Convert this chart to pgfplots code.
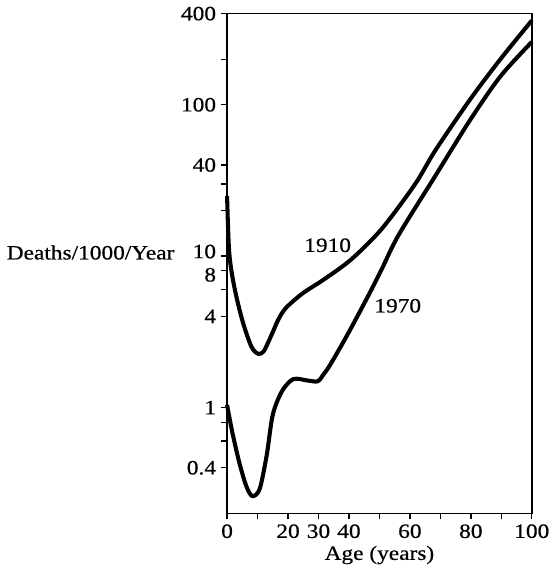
\documentclass[border=0pt]{standalone}
\usepackage{pgfplots}
\pgfplotsset{compat=1.18}
\usepackage{fontspec}
\setmainfont[FakeStretch=1.15, FakeBold=0.6]{Liberation Serif}

% death rate per 1000 per year
\pgfplotstableread{
age rate
0.0  25.0
0.7  10.6
2.3  6.37
5.0  3.77
8.0  2.52
10.3 2.26
12.0 2.35
13.5 2.70
15.0 3.15
16.5 3.70
18.0 4.20
20.0 4.70
25.0 5.72
31.7 7.00
40.7 9.50
50.7 15.1
61.7 29.9
68.3 49.8
79.7 108
89.7 200
100  360
}\yrnineteenten

\pgfplotstableread{
age rate
0.0  1.04
1.7  0.69
4.0  0.434
6.3  0.303
8.3  0.260
10.7 0.290
13.0 0.483
15.0 0.896
18.0 1.28
21.7 1.54
26.3 1.51
29.7 1.49
31.7 1.66
34.0 1.94
39.7 3.08
46.3 5.46
50.7 8.16
56.3 13.8
68.3 33.8
79.7 79
89.7 154
100  260
}\yrnineteenseventy

\newcommand{\fs}{\fontsize{20}{24}\selectfont}

\begin{document}
\fs
\begin{tikzpicture}
\begin{axis}[
  scale only axis,
  width=300pt, height=492pt,
  ymode=log,
  xmin=0, xmax=100,
  ymin=0.2, ymax=400,
  xtick={0,10,20,30,40,50,60,70,80,90,100},
  xticklabels={0,,20,30,40,,60,,80,,100},
  ytick={0.4,0.6,0.8,1,4,6,8,10,20,30,40,100,200,400},
  yticklabels={0.4,,,1,4,,\raisebox{-10.5pt}[0pt][0pt]{8},\raisebox{-2pt}[0pt][0pt]{10},,,40,100,,400},
  xtick pos=bottom, ytick pos=left,
  tick align=outside,
  major tick length=6pt,
  minor tick num=0,
  axis line style={line width=1.6pt},
  tick style={line width=1.3pt, black},
  ticklabel style={font=\fs},
  /pgf/number format/assume math mode=true,
  xticklabel style={yshift=2pt},
  yticklabel style={xshift=2pt},
  xlabel={Age (years)},
  xlabel style={font=\fs, yshift=6pt},
  clip=false,
]
\addplot[black, line width=4pt, smooth, tension=0.5] table[x=age, y=rate] {\yrnineteenten};
\addplot[black, line width=4pt, smooth, tension=0.5] table[x=age, y=rate] {\yrnineteenseventy};
\node[font=\fs] at (axis cs:33,11.8) {1910};
\node[font=\fs] at (axis cs:56,4.7) {1970};
\node[anchor=east, font=\fs] at (rel axis cs:-0.15,0.522) {Deaths/1000/Year};
\end{axis}
\end{tikzpicture}
\end{document}
